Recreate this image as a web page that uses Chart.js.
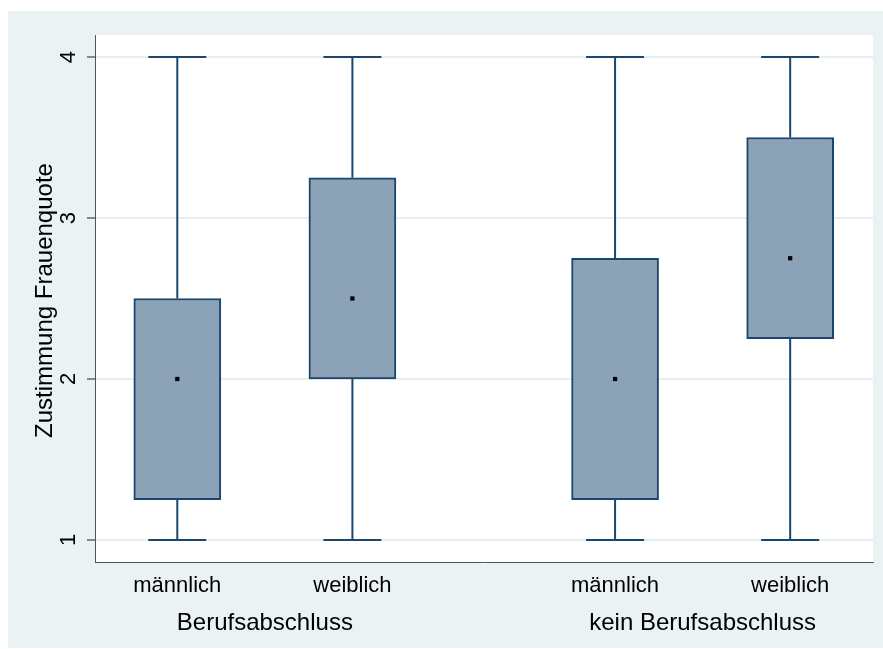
<!DOCTYPE html>
<html lang="de">
<head>
<meta charset="utf-8">
<title>Zustimmung Frauenquote</title>
<script src="https://cdn.jsdelivr.net/npm/chart.js@4.4.1/dist/chart.umd.min.js"></script>
<style>
  html, body { margin: 0; padding: 0; background: #ffffff; }
  canvas { display: block; }
</style>
</head>
<body>
<canvas id="boxChart" width="883" height="649"></canvas>
<script>
// Data
const groups = ['Berufsabschluss', 'kein Berufsabschluss'];
const categories = ['männlich', 'weiblich'];
const yTicks = [1, 2, 3, 4];
const mins = [1, 1, 1, 1];
const q1 = [1.25, 2, 1.25, 2.25];
const medians = [2, 2.5, 2, 2.75];
const q3 = [2.5, 3.25, 2.75, 3.5];
const maxs = [4, 4, 4, 4];
const yTitle = 'Zustimmung Frauenquote';

const navy = '#1a476f';
const boxFill = '#8ca3b7';
const outerBg = '#eaf2f3';
const font = '"Liberation Sans", Arial, sans-serif';

// x position of box i: groups separated by an extra half slot
function xPos(i) {
  return i + Math.floor(i / categories.length) * 0.5 + 1;
}

const boxData = q1.map((v, i) => ({ x: xPos(i), y: [v, q3[i]] }));
const medianData = medians.map((v, i) => ({ x: xPos(i), y: v }));

// Background: white margin, light blue-gray graph region, white plot region
const backgroundPlugin = {
  id: 'background',
  beforeDraw(chart) {
    const ctx = chart.ctx;
    const a = chart.chartArea;
    ctx.save();
    ctx.fillStyle = '#ffffff';
    ctx.fillRect(0, 0, chart.width, chart.height);
    ctx.fillStyle = outerBg;
    ctx.fillRect(8, 11, chart.width - 8, chart.height - 12);
    ctx.fillStyle = '#ffffff';
    ctx.fillRect(a.left, a.top, a.right - a.left, a.bottom - a.top);
    ctx.restore();
  }
};

// Whiskers and caps
const whiskerPlugin = {
  id: 'whiskers',
  beforeDatasetsDraw(chart) {
    const ctx = chart.ctx;
    const xs = chart.scales.x;
    const ys = chart.scales.y;
    ctx.save();
    ctx.strokeStyle = navy;
    ctx.lineWidth = 2;
    mins.forEach((lo, i) => {
      const x = xs.getPixelForValue(xPos(i));
      const yLo = ys.getPixelForValue(lo);
      const yHi = ys.getPixelForValue(maxs[i]);
      const yQ1 = ys.getPixelForValue(q1[i]);
      const yQ3 = ys.getPixelForValue(q3[i]);
      ctx.beginPath();
      ctx.moveTo(x, yLo); ctx.lineTo(x, yQ1);
      ctx.moveTo(x, yQ3); ctx.lineTo(x, yHi);
      ctx.moveTo(x - 29, yLo); ctx.lineTo(x + 29, yLo);
      ctx.moveTo(x - 29, yHi); ctx.lineTo(x + 29, yHi);
      ctx.stroke();
    });
    ctx.restore();
  }
};

// Tick labels, axis title, category and group labels
const labelPlugin = {
  id: 'labels',
  afterDraw(chart) {
    const ctx = chart.ctx;
    const xs = chart.scales.x;
    const ys = chart.scales.y;
    const a = chart.chartArea;
    ctx.save();
    ctx.fillStyle = '#000000';

    // y tick labels, rotated
    ctx.font = '22px ' + font;
    ctx.textAlign = 'center';
    ctx.textBaseline = 'alphabetic';
    yTicks.forEach(t => {
      ctx.save();
      ctx.translate(75, ys.getPixelForValue(t));
      ctx.rotate(-Math.PI / 2);
      ctx.fillText(String(t), 0, 0);
      ctx.restore();
    });

    // y axis title
    ctx.font = '24px ' + font;
    ctx.save();
    ctx.translate(52, (a.top + a.bottom) / 2 + 2);
    ctx.rotate(-Math.PI / 2);
    ctx.fillText(yTitle, 0, 0);
    ctx.restore();

    // category labels
    ctx.font = '22px ' + font;
    q1.forEach((v, i) => {
      ctx.fillText(categories[i % categories.length], xs.getPixelForValue(xPos(i)), 592);
    });

    // group titles
    ctx.font = '24px ' + font;
    groups.forEach((g, gi) => {
      const first = gi * categories.length;
      const last = first + categories.length - 1;
      const cx = (xs.getPixelForValue(xPos(first)) + xs.getPixelForValue(xPos(last))) / 2;
      ctx.fillText(g, cx, 630);
    });
    ctx.restore();
  }
};

const ctx = document.getElementById('boxChart').getContext('2d');
const boxChart = new Chart(ctx, {
  type: 'bar',
  data: {
    datasets: [{
      type: 'bar',
      data: boxData,
      backgroundColor: boxFill,
      borderColor: navy,
      borderWidth: 2,
      borderSkipped: false,
      barThickness: 87,
      order: 1
    }, {
      type: 'scatter',
      data: medianData,
      pointStyle: 'rect',
      pointRadius: 3,
      pointBackgroundColor: '#000000',
      pointBorderWidth: 0,
      order: 0
    }]
  },
  options: {
    responsive: false,
    animation: false,
    layout: {
      padding: { top: 35, right: 10, bottom: 0, left: 0 }
    },
    plugins: {
      legend: { display: false },
      tooltip: { enabled: false }
    },
    scales: {
      x: {
        type: 'linear',
        offset: false,
        min: 0.53,
        max: 4.973,
        grid: { display: false },
        border: { display: true, color: '#555555', width: 1 },
        ticks: { display: false },
        afterFit: function(scale) { scale.height = 87; }
      },
      y: {
        type: 'linear',
        min: 0.863,
        max: 4.137,
        afterBuildTicks: function(scale) {
          scale.ticks = yTicks.map(v => ({ value: v }));
        },
        grid: {
          color: '#e8eff1',
          lineWidth: 2,
          tickColor: '#222222',
          tickWidth: 1,
          tickLength: 8
        },
        border: { display: true, color: '#555555', width: 1 },
        ticks: { display: false },
        afterFit: function(scale) { scale.width = 95; }
      }
    }
  },
  plugins: [backgroundPlugin, whiskerPlugin, labelPlugin]
});
</script>
</body>
</html>
